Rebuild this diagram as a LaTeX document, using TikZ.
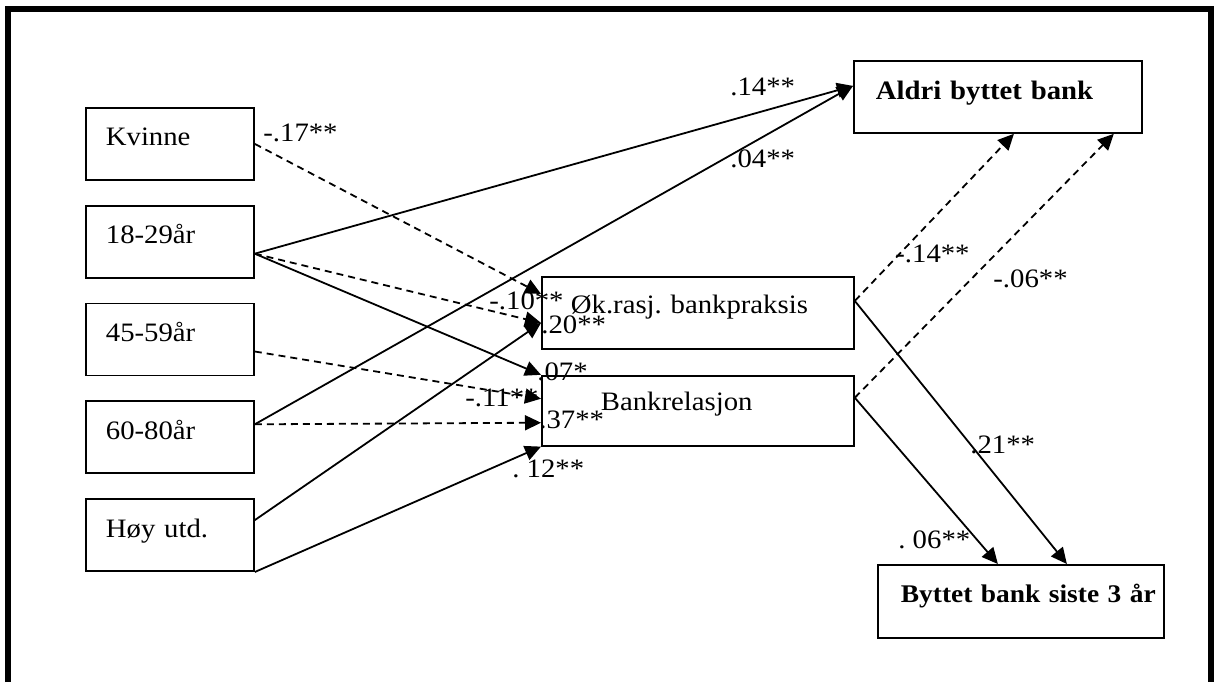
\documentclass[tikz,border=0pt]{standalone}
\usepackage{fontspec}
\setmainfont{Liberation Serif}[FakeStretch=1.08]
\usetikzlibrary{arrows.meta, positioning}

\begin{document}
\frenchspacing
\begin{tikzpicture}[
  x=0.5pt, y=-0.5pt,
  node distance=12pt and 1.4cm,
  every node/.style={font=\fontsize{13.3}{15}\selectfont},
  box/.style={rectangle, draw, line width=0.9pt, inner xsep=10pt, inner ysep=0pt,
              text width=64pt, align=left, text height=19pt, text depth=17pt},
  midbox/.style={box, inner xsep=14.5pt, text width=127pt, text height=18.5pt, text depth=17.5pt},
  endbox/.style={box, inner xsep=11pt, text width=122pt, text height=19.5pt, text depth=16.5pt,
                 font=\fontsize{13.3}{15}\selectfont\bfseries},
  coef/.style={inner sep=0pt, anchor=base west},
  arrow/.style={-{Triangle[length=8pt, width=7.5pt]}, line width=0.9pt},
  dasharrow/.style={arrow, dash pattern=on 3.5pt off 2.5pt}
]
  \useasboundingbox (0,0) rectangle (1216,682);
  \draw[line width=3pt, line join=miter] (8,682) -- (8,9) -- (1211,9) -- (1211,682);

  % background variables
  \node[box, anchor=north west] (kvinne) at (85,107) {Kvinne};
  \node[box, below=of kvinne] (ung)   {18-29år};
  \node[box, below=of ung]    (mid)   {45-59år};
  \node[box, below=of mid]    (eldre) {60-80år};
  \node[box, below=of eldre]  (utd)   {Høy utd.};

  % mediators
  \node[midbox, anchor=north west] (ok) at (541,276) {Øk.rasj. bankpraksis};
  \node[midbox, below=12.5pt of ok, inner xsep=29.5pt, text width=97pt, text height=17.5pt] (bank) {Bankrelasjon};

  % outcomes
  \node[endbox, anchor=north west] (aldri) at (853,60) {Aldri byttet bank};
  \node[endbox, anchor=north west, inner xsep=11.5pt, text width=120pt, text height=19pt, text depth=17.5pt,
        font=\fontsize{12.7}{15}\selectfont\bfseries] (byttet) at (877,564) {\mbox{Byttet bank siste 3 år}};

  \draw[dasharrow] (kvinne.east) -- ([yshift=9.5pt]ok.west);
  \draw[arrow] ([yshift=-6pt]ung.east) -- ([yshift=5.5pt]aldri.west);
  \draw[dasharrow] ([yshift=-6pt]ung.east) -- ([yshift=-5pt]ok.west);
  \draw[arrow] ([yshift=-6pt]ung.east) -- (bank.north west);
  \draw[dasharrow] ([yshift=-6pt]mid.east) -- ([yshift=6pt]bank.west);
  \draw[arrow] ([yshift=6.5pt]eldre.east) -- ([yshift=5.5pt]aldri.west);
  \draw[dasharrow] ([yshift=6.5pt]eldre.east) -- ([yshift=-6pt]bank.west);
  \draw[arrow] ([yshift=7.5pt]utd.east) -- ([yshift=-5pt]ok.west);
  \draw[arrow] (utd.south east) -- (bank.south west);

  \draw[dasharrow] ([yshift=6pt]ok.east) -- ([xshift=8pt]aldri.south);
  \draw[arrow] ([yshift=6pt]ok.east) -- ([xshift=23pt]byttet.north);
  \draw[dasharrow] ([yshift=6.5pt]bank.east) -- ([xshift=-14.5pt]aldri.south east);
  \draw[arrow] ([yshift=6.5pt]bank.east) -- ([xshift=-11.5pt]byttet.north);

  % coefficients
  \node[coef] (c17) at (263,141) {-.17**};
  \node[coef] (c14) at (730,95)  {.14**};
  \node[coef] (c04) at (730,167) {.04**};
  \node[coef] (c10) at (489,309) {-.10**};
  \node[coef] (c20) at (541,333) {.20**};
  \node[coef] (c07) at (537,380) {.07*};
  \node[coef] (c11) at (465,406) {-.11**};
  \node[coef] (c37) at (539,428) {.37**};
  \node[coef] (c12) at (512,477) {. 12**};
  \node[coef] (d14) at (895,262) {-.14**};
  \node[coef] (d06) at (993,287) {-.06**};
  \node[coef] (d21) at (970,453) {.21**};
  \node[coef] (e06) at (898,548) {. 06**};
\end{tikzpicture}
\end{document}
